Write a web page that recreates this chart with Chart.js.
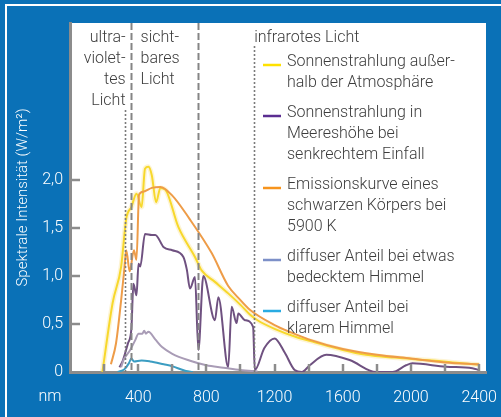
<!DOCTYPE html>
<html>
<head>
<meta charset="utf-8">
<script src="https://cdn.jsdelivr.net/npm/chart.js@4.4.1/dist/chart.umd.min.js"></script>
<style>
    html, body { margin: 0; padding: 0; background: #0a71b7; overflow: hidden; }
    #wrap { position: relative; width: 501px; height: 417px; overflow: hidden; }
    #frame { position: absolute; left: 5px; top: 4px; width: 600px; height: 600px;
             border-left: 2px solid #fff; border-top: 2px solid #fff; }
    canvas { position: absolute; left: 0; top: 0; }
</style>
</head>
<body>
<div id="wrap">
    <div id="frame"></div>
    <canvas id="spectrumChart" width="501" height="417"></canvas>
</div>
<script>
// Sonnenspektrum – Werte (nm / W/m²)
const spaceNm = [190, 250, 300, 330, 360, 390, 420, 440, 460, 480, 505, 530, 560, 636, 733, 772, 850, 928, 1000, 1055, 1100, 1200, 1318, 1435, 1600, 1737, 1900, 2125, 2300, 2400];
const spaceVal = [0, 0.72, 1.1, 1.6, 1.72, 1.86, 1.72, 2.12, 2.14, 2.05, 1.77, 1.92, 1.9, 1.51, 1.2, 1.06, 0.94, 0.82, 0.7, 0.6, 0.54, 0.45, 0.37, 0.31, 0.23, 0.18, 0.15, 0.12, 0.09, 0.075];

const seaNm = [290, 310, 340, 360, 372, 390, 402, 412, 440, 480, 500, 550, 600, 665, 685, 704, 733, 753, 782, 850, 870, 928, 948, 977, 987, 1026, 1074, 1084, 1140, 1200, 1260, 1318, 1360, 1406, 1503, 1640, 1795, 1892, 1971, 2008, 2205, 2360, 2400];
const seaVal = [0.05, 0.12, 0.3, 0.45, 0.92, 0.8, 1.13, 1.1, 1.44, 1.43, 1.43, 1.3, 1.27, 1.2, 1.07, 0.87, 0.99, 0.23, 1.0, 0.54, 0.78, 0.05, 0.68, 0.51, 0.61, 0.54, 0.47, 0.02, 0.25, 0.35, 0.2, 0.02, 0, 0.07, 0.18, 0.125, 0, 0, 0.07, 0.09, 0.055, 0.04, 0.02];

const blackNm = [240, 270, 300, 320, 330, 350, 375, 390, 405, 430, 480, 530, 600, 700, 831, 927, 1000, 1055, 1200, 1300, 1400, 1600, 1800, 2000, 2200, 2400];
const blackVal = [0.08, 0.3, 0.75, 1.1, 1.27, 1.05, 1.27, 1.17, 1.85, 1.88, 1.92, 1.93, 1.84, 1.6, 1.24, 0.9, 0.75, 0.65, 0.49, 0.41, 0.34, 0.24, 0.18, 0.14, 0.1, 0.08];

const cloudyNm = [300, 314, 353, 382, 402, 425, 435, 445, 460, 500, 540, 600, 700, 800, 900, 1000, 1100];
const cloudyVal = [0.05, 0.125, 0.23, 0.33, 0.4, 0.4, 0.43, 0.4, 0.42, 0.34, 0.26, 0.19, 0.12, 0.07, 0.045, 0.02, 0.005];

const clearNm = [280, 320, 345, 360, 375, 420, 470, 550, 600, 680, 720];
const clearVal = [0, 0.03, 0.09, 0.14, 0.11, 0.12, 0.11, 0.08, 0.06, 0.01, 0];

// Grenzen der Spektralbereiche (nm)
const bandEdgeNm = [320, 355, 750, 1080];

const xTickValues = [200, 400, 600, 800, 1000, 1200, 1400, 1600, 1800, 2000, 2200, 2400];
const xTickLabels = ['', '400', '', '800', '', '1200', '', '1600', '', '2000', '', '2400'];
const yTickValues = [0, 0.5, 1.0, 1.5, 2.0];
const yTickLabels = ['0', '0,5', '1,0', '1,5', '2,0'];

const legendLabels = [
    ['Sonnenstrahlung außer-', 'halb der Atmosphäre'],
    ['Sonnenstrahlung in', 'Meereshöhe bei', 'senkrechtem Einfall'],
    ['Emissionskurve eines', 'schwarzen Körpers bei', '5900 K'],
    ['diffuser Anteil bei etwas', 'bedecktem Himmel'],
    ['diffuser Anteil bei', 'klarem Himmel']
];
const legendColors = ['#ffe100', '#5b2d91', '#f7941d', '#7d90c8', '#29abe2'];

const bandLabels = {
    uv: ['ultra-', 'violet-', 'tes', 'Licht'],
    vis: ['sicht-', 'bares', 'Licht'],
    ir: ['infrarotes Licht']
};

const FONT = 'Roboto, "Liberation Sans", sans-serif';
const TEXT = '#3c3c3c';
const AXIS = '#8c8c8c';

const toPoints = (xs, ys) => xs.map((v, i) => ({ x: v, y: ys[i] }));

const decor = {
    id: 'decor',
    beforeDraw(chart) {
        const { ctx, chartArea: a } = chart;
        ctx.save();
        ctx.fillStyle = '#fff';
        ctx.fillRect(a.left, a.top, a.right - a.left, a.bottom - a.top);
        ctx.restore();
    },
    afterDatasetsDraw(chart) {
        const { ctx, chartArea: a, scales: { x } } = chart;
        // dotted = UV/IR border, dashed = visible range
        const tops = [110, a.top, a.top, 46];
        const dots = [[2, 2], [7, 3], [7, 3], [2, 2]];
        ctx.save();
        bandEdgeNm.forEach((nm, i) => {
            const px = Math.round(x.getPixelForValue(nm)) + 0.5;
            ctx.beginPath();
            ctx.setLineDash(dots[i]);
            ctx.lineWidth = i === 0 || i === 3 ? 1.6 : 2;
            ctx.strokeStyle = i === 0 || i === 3 ? '#7b7b7b' : '#858585';
            ctx.moveTo(px, tops[i]);
            ctx.lineTo(px, a.bottom);
            ctx.stroke();
        });
        ctx.restore();
    },
    afterDraw(chart) {
        const { ctx, chartArea: a, scales: { x, y } } = chart;
        ctx.save();

        // Ticks nach innen
        ctx.strokeStyle = AXIS;
        ctx.lineWidth = 2.5;
        x.ticks.forEach(t => {
            const px = Math.round(x.getPixelForValue(t.value));
            ctx.beginPath();
            ctx.moveTo(px, a.bottom);
            ctx.lineTo(px, a.bottom - 8);
            ctx.stroke();
        });
        y.ticks.forEach(t => {
            if (t.value === 0) return;
            const py = Math.round(y.getPixelForValue(t.value));
            ctx.beginPath();
            ctx.moveTo(a.left, py);
            ctx.lineTo(a.left + 10, py);
            ctx.stroke();
        });

        // Einheit an der x-Achse
        ctx.fillStyle = '#fff';
        ctx.font = '300 16px ' + FONT;
        ctx.textAlign = 'center';
        ctx.textBaseline = 'middle';
        ctx.fillText('nm', 50, 397);

        // Bereichsbeschriftung
        ctx.fillStyle = TEXT;
        ctx.textBaseline = 'middle';
        const uvX = x.getPixelForValue(bandEdgeNm[0]);
        const visX = x.getPixelForValue(bandEdgeNm[1]);
        const irX = x.getPixelForValue(bandEdgeNm[3]);
        ctx.textAlign = 'right';
        bandLabels.uv.forEach((t, i) => ctx.fillText(t, uvX + 1, 38 + i * 21));
        ctx.textAlign = 'left';
        bandLabels.vis.forEach((t, i) => ctx.fillText(t, visX + 10, 38 + i * 21));
        bandLabels.ir.forEach((t, i) => ctx.fillText(t, irX, 38 + i * 21));

        // Legende
        let ly = 62;
        legendLabels.forEach((lines, i) => {
            ctx.strokeStyle = legendColors[i];
            ctx.lineWidth = 2.5;
            ctx.beginPath();
            ctx.moveTo(263, ly + 3);
            ctx.lineTo(281, ly + 3);
            ctx.stroke();
            ctx.fillStyle = TEXT;
            lines.forEach((t, j) => ctx.fillText(t, 287, ly + j * 21));
            ly += lines.length * 21 + 9;
        });
        ctx.restore();
    }
};

const canvas = document.getElementById('spectrumChart');
new Chart(canvas, {
    type: 'line',
    data: {
        datasets: [
            {
                label: legendLabels[3].join(' '),
                data: toPoints(cloudyNm, cloudyVal),
                borderColor: '#a99cb6',
                borderWidth: 2
            },
            {
                label: legendLabels[4].join(' '),
                data: toPoints(clearNm, clearVal),
                borderColor: '#3b9dc2',
                borderWidth: 2
            },
            {
                label: legendLabels[1].join(' '),
                data: toPoints(seaNm, seaVal),
                borderColor: '#6f5180',
                borderWidth: 2
            },
            {
                label: legendLabels[2].join(' '),
                data: toPoints(blackNm, blackVal),
                borderColor: '#ee9c48',
                borderWidth: 2
            },
            {
                // weicher Schein unter der gelben Kurve
                label: 'glow',
                data: toPoints(spaceNm, spaceVal),
                borderColor: 'rgba(248, 205, 60, 0.22)',
                borderWidth: 5
            },
            {
                label: legendLabels[0].join(' '),
                data: toPoints(spaceNm, spaceVal),
                borderColor: '#f8dc28',
                borderWidth: 2
            }
        ]
    },
    options: {
        responsive: false,
        animation: false,
        events: [],
        layout: { padding: { top: 23, right: 15, left: 0, bottom: 0 } },
        elements: {
            point: { radius: 0 },
            line: { cubicInterpolationMode: 'monotone', fill: false }
        },
        plugins: {
            legend: { display: false },
            tooltip: { enabled: false }
        },
        scales: {
            x: {
                type: 'linear',
                min: 0,
                max: 2440,
                afterBuildTicks: scale => { scale.ticks = xTickValues.map(v => ({ value: v })); },
                afterFit: scale => {
                    scale.height = 45;
                    scale.paddingLeft = 0;
                    scale.paddingRight = 0;
                },
                grid: { display: false, drawTicks: false },
                border: { display: true, color: AXIS, width: 3 },
                ticks: {
                    autoSkip: false,
                    maxRotation: 0,
                    padding: 16,
                    color: '#fff',
                    font: { family: FONT, size: 16, weight: 300 },
                    callback: (v, i) => xTickLabels[i]
                }
            },
            y: {
                type: 'linear',
                min: 0,
                max: 3.64,
                afterBuildTicks: scale => { scale.ticks = yTickValues.map(v => ({ value: v })); },
                afterFit: scale => { scale.width = 70; },
                grid: { display: false, drawTicks: false },
                border: { display: true, color: AXIS, width: 3 },
                title: {
                    display: true,
                    text: 'Spektrale Intensität (W/m²)',
                    color: '#fff',
                    font: { family: FONT, size: 15, weight: 300 },
                    padding: { top: 14, bottom: 0 }
                },
                ticks: {
                    autoSkip: false,
                    padding: 7,
                    color: '#fff',
                    font: { family: FONT, size: 16, weight: 300 },
                    callback: (v, i) => yTickLabels[i]
                }
            }
        }
    },
    plugins: [decor]
});
</script>
</body>
</html>
